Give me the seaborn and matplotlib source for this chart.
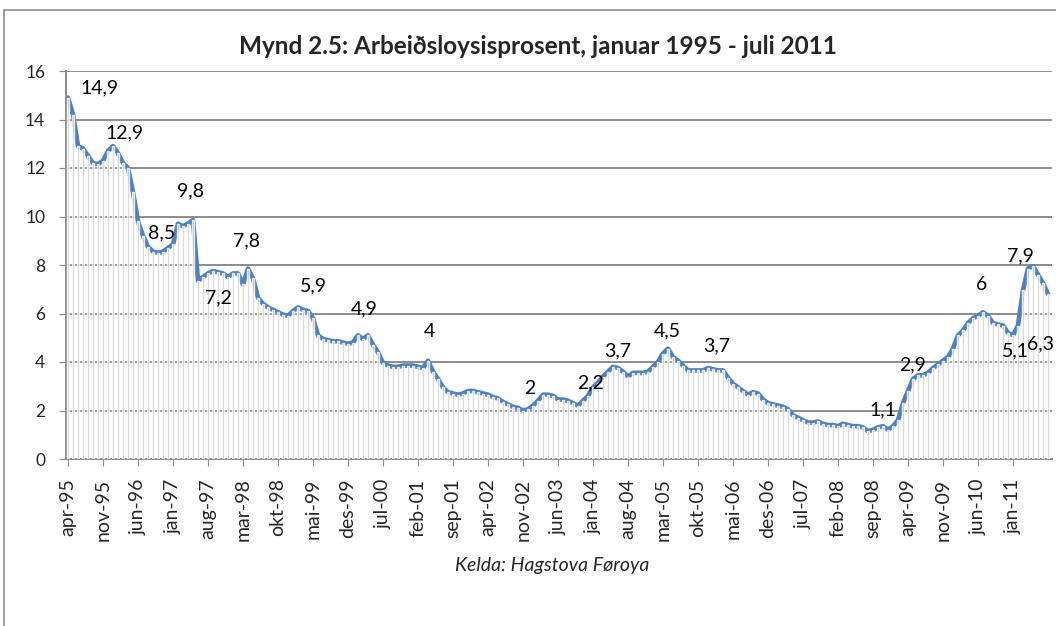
import numpy as np
import pandas as pd
import seaborn as sns
import matplotlib.pyplot as plt
from matplotlib.patches import Rectangle

# Arbeiðsloysisprosent, ein virði fyri hvønn mánað frá apr-95
rate = [
    14.9, 14.2, 12.9, 12.8, 12.5, 12.2, 12.15, 12.3, 12.7, 12.9,
    12.6, 12.2, 12.0, 11.0, 9.8, 9.2, 8.75, 8.55, 8.5, 8.55,
    8.7, 8.85, 9.7, 9.6, 9.7, 9.85, 7.35, 7.5, 7.65, 7.75,
    7.7, 7.65, 7.5, 7.65, 7.65, 7.2, 7.85, 7.45, 6.65, 6.4,
    6.25, 6.15, 6.05, 5.95, 5.9, 6.1, 6.25, 6.15, 6.1, 5.8,
    5.1, 4.95, 4.9, 4.85, 4.85, 4.8, 4.75, 4.8, 5.1, 4.95,
    5.1, 4.7, 4.4, 3.95, 3.85, 3.8, 3.8, 3.85, 3.85, 3.85,
    3.8, 3.75, 4.05, 3.6, 3.3, 2.95, 2.75, 2.7, 2.65, 2.7,
    2.8, 2.8, 2.75, 2.7, 2.65, 2.55, 2.5, 2.35, 2.25, 2.15,
    2.1, 2.0, 2.05, 2.2, 2.4, 2.65, 2.65, 2.6, 2.45, 2.45,
    2.4, 2.3, 2.2, 2.4, 2.6, 2.95, 3.15, 3.4, 3.6, 3.8,
    3.75, 3.6, 3.4, 3.55, 3.55, 3.55, 3.6, 3.8, 4.0, 4.35,
    4.55, 4.2, 4.05, 3.85, 3.65, 3.65, 3.65, 3.65, 3.75, 3.7,
    3.65, 3.65, 3.35, 3.1, 2.95, 2.8, 2.65, 2.75, 2.7, 2.45,
    2.3, 2.25, 2.2, 2.15, 2.05, 1.8, 1.7, 1.6, 1.5, 1.5,
    1.55, 1.45, 1.4, 1.4, 1.35, 1.45, 1.4, 1.35, 1.35, 1.3,
    1.15, 1.2, 1.3, 1.35, 1.2, 1.35, 1.6, 2.3, 2.8, 3.3,
    3.45, 3.45, 3.55, 3.75, 3.9, 4.05, 4.2, 4.55, 5.1, 5.3,
    5.6, 5.8, 5.9, 6.05, 5.9, 5.6, 5.55, 5.5, 5.2, 5.1,
    5.5, 6.95, 7.85, 7.95, 7.6, 7.25, 6.8,
]

tick_labels = ["apr-95", "nov-95", "jun-96", "jan-97", "aug-97", "mar-98", "okt-98",
               "mai-99", "des-99", "jul-00", "feb-01", "sep-01", "apr-02", "nov-02",
               "jun-03", "jan-04", "aug-04", "mar-05", "okt-05", "mai-06", "des-06",
               "jul-07", "feb-08", "sep-08", "apr-09", "nov-09", "jun-10", "jan-11"]

# dataspjøldur: hvør mánaður og hvør tekstur
label_month = [0, 9, 18, 25, 26, 36, 46, 58, 72, 91, 102, 109, 120, 128, 160, 168, 183, 189, 193, 196]
label_text = ["14,9", "12,9", "8,5", "9,8", "7,2", "7,8", "5,9", "4,9", "4", "2",
              "2,2", "3,7", "4,5", "3,7", "1,1", "2,9", "6", "5,1", "7,9", "6,3"]
label_shift = [(32, 10), (12, 13), (4, 20), (-3, 29), (20, -17), (-2, 28), (15, 22), (6, 26),
               (1, 29), (7, 22), (13, 23), (5, 16), (-1, 18), (9, 22), (15, 21), (5, 26),
               (-1, 28), (2, -16), (-13, 10), (-7, -50)]

df = pd.DataFrame({"month": np.arange(len(rate)), "rate": rate})

sns.set_style("white")
plt.rcParams["font.family"] = ["Lato", "DejaVu Sans"]

fig = plt.figure(figsize=(10.56, 6.26), dpi=100)
ax = fig.add_axes([66 / 1056, 1 - 459 / 626, 986 / 1056, 388 / 626])

# ytri rammi
fig.patches.append(Rectangle((4 / 1056, -0.1), 1.2, 1.1 - 10 / 626, transform=fig.transFigure,
                             fill=False, edgecolor="#8c8c8c", lw=1.2))

ax.yaxis.grid(True, color="#8c8c8c", lw=1.4, zorder=0)
ax.set_axisbelow(True)

sns.lineplot(data=df, x="month", y="rate", color="#4f81bd", lw=3.4, ax=ax, zorder=2)
sns.barplot(data=df, x="month", y="rate", native_scale=True, width=0.45,
            color="#c0c0c0", alpha=0.8, saturation=1, ax=ax, zorder=3)

for m, t, (dx, dy) in zip(label_month, label_text, label_shift):
    ax.annotate(t, (m, rate[m]), xytext=(dx, dy), textcoords="offset pixels",
                ha="center", va="center", fontsize=14, color="black", zorder=5,
                annotation_clip=False)

ax.set_xlim(-0.4, 196.8)
ax.set_ylim(0, 16)
ax.set_yticks(range(0, 17, 2))
ax.set_xticks(np.arange(len(tick_labels)) * 7)
ax.set_xticklabels(tick_labels, rotation=90, fontsize=14)
ax.tick_params(axis="y", labelsize=12.5, length=5, color="#8c8c8c", direction="out", pad=10)
ax.tick_params(axis="x", length=5, color="#8c8c8c", direction="out", pad=9)
ax.tick_params(left=True, bottom=True)
ax.set_xlabel("")
ax.set_ylabel("")
for s in ["top", "right"]:
    ax.spines[s].set_visible(False)
for s in ["left", "bottom"]:
    ax.spines[s].set_color("#8c8c8c")
    ax.spines[s].set_linewidth(1.4)

fig.text(538 / 1056, 1 - 47 / 626, "Mynd 2.5: Arbeiðsloysisprosent, januar 1995 - juli 2011",
         ha="center", va="center", fontsize=17.5, fontweight="bold")
fig.text(552 / 1056, 1 - 566 / 626, "Kelda: Hagstova Føroya",
         ha="center", va="center", fontsize=14, style="italic")

fig.savefig("out.png", dpi=100)
